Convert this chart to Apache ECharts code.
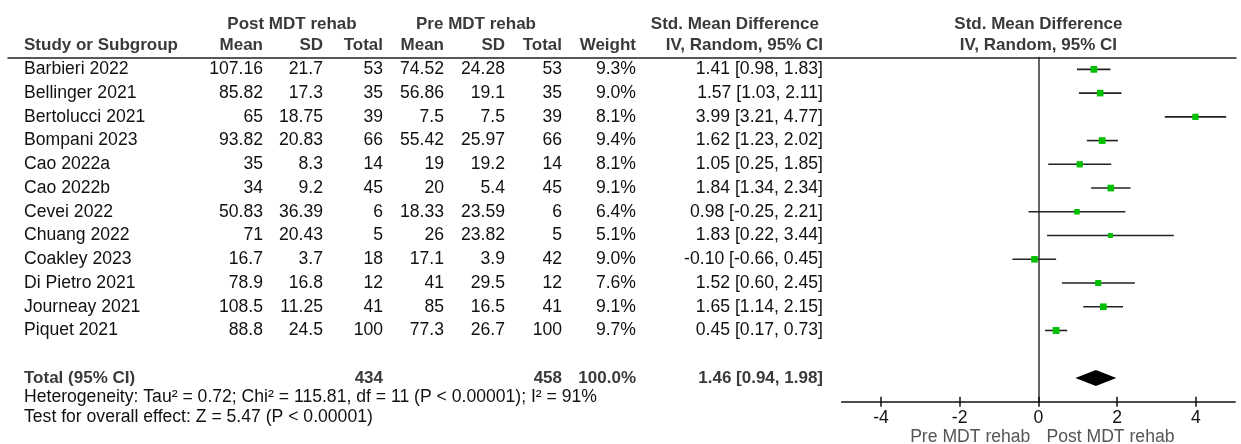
<!DOCTYPE html>
<html><head><meta charset="utf-8">
<script src="https://cdn.jsdelivr.net/npm/echarts@6/dist/echarts.min.js"></script>
<style>html,body{margin:0;padding:0;background:#fff}#c{width:1241px;height:444px}</style>
</head><body><div id="c"></div>
<script>
// ---------- DATA ----------
const studies = ['Barbieri 2022','Bellinger 2021','Bertolucci 2021','Bompani 2023','Cao 2022a','Cao 2022b','Cevei 2022','Chuang 2022','Coakley 2023','Di Pietro 2021','Journeay 2021','Piquet 2021'];
const postMean = [107.16,85.82,65,93.82,35,34,50.83,71,16.7,78.9,108.5,88.8];
const postSD = [21.7,17.3,18.75,20.83,8.3,9.2,36.39,20.43,3.7,16.8,11.25,24.5];
const postTotal = [53,35,39,66,14,45,6,5,18,12,41,100];
const preMean = [74.52,56.86,7.5,55.42,19,20,18.33,26,17.1,41,85,77.3];
const preSD = [24.28,19.1,7.5,25.97,19.2,5.4,23.59,23.82,3.9,29.5,16.5,26.7];
const preTotal = [53,35,39,66,14,45,6,5,42,12,41,100];
const weight = [9.3,9.0,8.1,9.4,8.1,9.1,6.4,5.1,9.0,7.6,9.1,9.7];
const smd = [1.41,1.57,3.99,1.62,1.05,1.84,0.98,1.83,-0.10,1.52,1.65,0.45];
const ciLow = [0.98,1.03,3.21,1.23,0.25,1.34,-0.25,0.22,-0.66,0.60,1.14,0.17];
const ciHigh = [1.83,2.11,4.77,2.02,1.85,2.34,2.21,3.44,0.45,2.45,2.15,0.73];
const totalLabel = 'Total (95% CI)';
const totalPost = 434;
const totalPre = 458;
const totalWeight = 100.0;
const totalSmd = 1.46, totalLow = 0.94, totalHigh = 1.98;
const heterogeneity = 'Heterogeneity: Tau² = 0.72; Chi² = 115.81, df = 11 (P < 0.00001); I² = 91%';
const overallTest = 'Test for overall effect: Z = 5.47 (P < 0.00001)';
const xTicks = [-4,-2,0,2,4];
const favoursLeft = 'Pre MDT rehab';
const favoursRight = 'Post MDT rehab';

// ---------- LAYOUT ----------
const FONT = 'Liberation Sans, Arial, sans-serif';
const FS = 17.6;
const FSB = 17;
const TOTAL_ROW = 13;
const COL = {name:24, postMean:263, postSD:323, postTotal:383, preMean:444, preSD:505, preTotal:562, weight:636, ci:823};
const fmtCI = (e,l,h)=> e.toFixed(2)+' ['+l.toFixed(2)+', '+h.toFixed(2)+']';

const cells = [];
function cell(x,row,text,opt){ cells.push(Object.assign({x,row,text,align:'right',bold:false,color:'#111'},opt||{})); }
const HDR = '#3a3a3a';
// headers
cell(292,-1.9,'Post MDT rehab',{align:'center',bold:true,color:HDR});
cell(476,-1.9,'Pre MDT rehab',{align:'center',bold:true,color:HDR});
cell(COL.ci-4,-1.9,'Std. Mean Difference',{bold:true,color:HDR});
cell(COL.name,-1,'Study or Subgroup',{align:'left',bold:true,color:HDR});
cell(COL.postMean,-1,'Mean',{bold:true,color:HDR});
cell(COL.postSD,-1,'SD',{bold:true,color:HDR});
cell(COL.postTotal,-1,'Total',{bold:true,color:HDR});
cell(COL.preMean,-1,'Mean',{bold:true,color:HDR});
cell(COL.preSD,-1,'SD',{bold:true,color:HDR});
cell(COL.preTotal,-1,'Total',{bold:true,color:HDR});
cell(COL.weight,-1,'Weight',{bold:true,color:HDR});
cell(COL.ci,-1,'IV, Random, 95% CI',{bold:true,color:HDR});
studies.forEach((s,i)=>{
  cell(COL.name,i,s,{align:'left'});
  cell(COL.postMean,i,String(postMean[i]));
  cell(COL.postSD,i,String(postSD[i]));
  cell(COL.postTotal,i,String(postTotal[i]));
  cell(COL.preMean,i,String(preMean[i]));
  cell(COL.preSD,i,String(preSD[i]));
  cell(COL.preTotal,i,String(preTotal[i]));
  cell(COL.weight,i,weight[i].toFixed(1)+'%');
  cell(COL.ci,i,fmtCI(smd[i],ciLow[i],ciHigh[i]));
});
cell(COL.name,TOTAL_ROW,totalLabel,{align:'left',bold:true,color:HDR});
cell(COL.postTotal,TOTAL_ROW,String(totalPost),{bold:true,color:HDR});
cell(COL.preTotal,TOTAL_ROW,String(totalPre),{bold:true,color:HDR});
cell(COL.weight,TOTAL_ROW,totalWeight.toFixed(1)+'%',{bold:true,color:HDR});
cell(COL.ci,TOTAL_ROW,fmtCI(totalSmd,totalLow,totalHigh),{bold:true,color:HDR});
cell(COL.name,13.82,heterogeneity,{align:'left'});
cell(COL.name,14.63,overallTest,{align:'left'});

// forest-side texts (x in effect units)
const fcells = [
  {x:0,row:-1.9,text:'Std. Mean Difference',align:'center',bold:true,color:HDR,dx:0},
  {x:0,row:-1,text:'IV, Random, 95% CI',align:'center',bold:true,color:HDR,dx:0},
  {x:0,row:15.5,text:favoursLeft,align:'right',bold:false,color:'#555',dx:-8},
  {x:0,row:15.5,text:favoursRight,align:'left',bold:false,color:'#555',dx:8}
];

function textRenderer(list){
  return function(params, api){
    const d = list[params.dataIndex];
    const p = api.coord([d.x, d.row]);
    return {type:'text', x:p[0]+(d.dx||0), y:p[1], silent:true,
      style:{text:d.text, fill:d.color, align:d.align, verticalAlign:'middle',
        fontSize:d.bold?FSB:FS, fontFamily:FONT, fontWeight:d.bold?'bold':'normal'}};
  };
}

const forestData = studies.map((s,i)=>[ciLow[i],ciHigh[i],smd[i],i,weight[i]]);
const GRID_TOP = 57.5, GRID_BOTTOM = 42.3;

const chart = echarts.init(document.getElementById('c'),null,{renderer:'canvas'});
chart.setOption({
  animation:false,
  backgroundColor:'#fff',
  grid:[
    {left:8,right:5,top:GRID_TOP,bottom:GRID_BOTTOM},
    {left:841.6,right:5.8,top:GRID_TOP,bottom:GRID_BOTTOM}
  ],
  xAxis:[
    {gridIndex:0,type:'value',min:8,max:1236,position:'top',
     axisLine:{show:true,onZero:false,lineStyle:{color:'#222',width:1.5}},
     axisTick:{show:false},axisLabel:{show:false},splitLine:{show:false}},
    {gridIndex:1,type:'value',min:-5,max:5,position:'bottom',
     axisLine:{show:true,onZero:false,lineStyle:{color:'#111',width:1.5}},
     axisTick:{show:true,inside:false,length:5,customValues:xTicks,lineStyle:{color:'#111',width:1.5}},
     axisLabel:{show:true,customValues:xTicks,margin:7,color:'#111',fontSize:FS,fontFamily:FONT},
     splitLine:{show:false}},
    {gridIndex:1,type:'value',min:-5,max:5,position:'bottom',
     axisLine:{show:false,onZero:false},
     axisTick:{show:true,inside:true,length:5,customValues:xTicks,lineStyle:{color:'#111',width:1.5}},
     axisLabel:{show:false},splitLine:{show:false}}
  ],
  yAxis:[
    {gridIndex:0,type:'value',min:-0.5,max:14,inverse:true,show:false},
    {gridIndex:1,type:'value',min:-0.5,max:14,inverse:true,
     axisLine:{show:true,onZero:true,lineStyle:{color:'#333',width:1.5}},
     axisTick:{show:false},axisLabel:{show:false},splitLine:{show:false}}
  ],
  series:[
    {type:'custom',xAxisIndex:0,yAxisIndex:0,clip:false,
     data:cells.map(c=>[c.x,c.row]),renderItem:textRenderer(cells),z:5},
    {type:'custom',xAxisIndex:1,yAxisIndex:1,clip:false,
     data:fcells.map(c=>[c.x,c.row]),renderItem:textRenderer(fcells),z:5},
    {type:'custom',xAxisIndex:1,yAxisIndex:1,clip:false,
     encode:{x:[0,1,2],y:3},
     data:forestData,
     renderItem:function(params,api){
       const lo = api.coord([api.value(0),api.value(3)]);
       const hi = api.coord([api.value(1),api.value(3)]);
       const c = api.coord([api.value(2),api.value(3)]);
       const s = 2.2*Math.sqrt(api.value(4));
       return {type:'group',children:[
         {type:'line',shape:{x1:lo[0],y1:lo[1],x2:hi[0],y2:hi[1]},style:{stroke:'#222',lineWidth:1.6}},
         {type:'rect',shape:{x:c[0]-s/2,y:c[1]-s/2,width:s,height:s},style:{fill:'#00c000'}}
       ]};
     },z:4},
    {type:'custom',xAxisIndex:1,yAxisIndex:1,clip:false,
     encode:{x:[0,1,2],y:3},
     data:[[totalLow,totalHigh,totalSmd,TOTAL_ROW]],
     renderItem:function(params,api){
       const lo = api.coord([api.value(0),api.value(3)]);
       const hi = api.coord([api.value(1),api.value(3)]);
       const c = api.coord([api.value(2),api.value(3)]);
       const h = 8;
       return {type:'polygon',shape:{points:[[lo[0],lo[1]],[c[0],c[1]-h],[hi[0],hi[1]],[c[0],c[1]+h]]},style:{fill:'#000'}};
     },z:4}
  ]
});
</script></body></html>
